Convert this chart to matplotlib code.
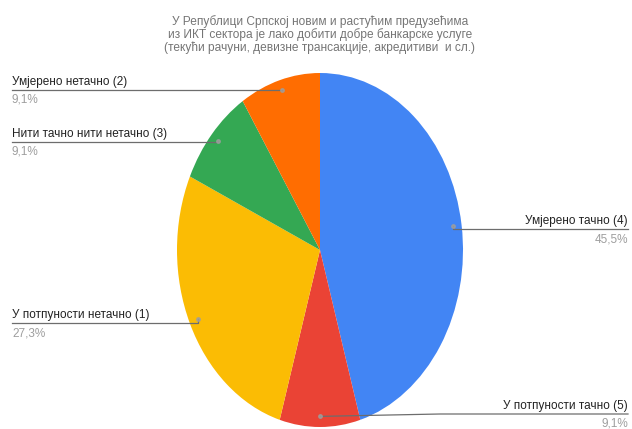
import numpy as np
import matplotlib
matplotlib.use('Agg')
import matplotlib.pyplot as plt

plt.rcParams['font.family'] = ['Liberation Sans', 'DejaVu Sans']

title = ('У Републици Српској новим и растућим предузећима\n'
         'из ИКТ сектора је лако добити добре банкарске услуге\n'
         '(текући рачуни, девизне трансакције, акредитиви  и сл.)')
labels = ['Умјерено тачно (4)', 'У потпуности тачно (5)', 'У потпуности нетачно (1)',
          'Нити тачно нити нетачно (3)', 'Умјерено нетачно (2)']
counts = [5, 1, 3, 1, 1]
colors = ['#4285F4', '#EA4335', '#FBBC04', '#34A853', '#FF6D01']

W, H = 632, 429
cx, cy, rx, ry = 320, 250, 143, 177

# label placement: side, y of the underline, x of the elbow (None = straight)
layout = [('right', 229, None), ('right', 414, 440), ('left', 323, None),
          ('left', 142, None), ('left', 90, None)]

fig = plt.figure(figsize=(W / 100, H / 100), dpi=100)
ax = fig.add_axes([(cx - rx) / W, (H - cy - ry) / H, 2 * rx / W, 2 * ry / H])
wedges, _ = ax.pie(counts, colors=colors, startangle=90, counterclock=False,
                   wedgeprops=dict(linewidth=0))
ax.set_aspect('auto')
ax.set_xlim(-1, 1)
ax.set_ylim(-1, 1)

ov = fig.add_axes([0, 0, 1, 1])
ov.set_xlim(0, W)
ov.set_ylim(H, 0)
ov.axis('off')
ov.patch.set_alpha(0)

ov.text(cx, 15, title, ha='center', va='top', fontsize=8.6, color='#757575',
        linespacing=1.02)

total = sum(counts)
for w, lab, n, (side, ly, elbow) in zip(wedges, labels, counts, layout):
    mid = np.deg2rad((w.theta1 + w.theta2) / 2)
    dx = cx + 0.94 * rx * np.cos(mid)
    dy = cy - 0.94 * ry * np.sin(mid)
    pct = f'{100 * n / total:.1f}%'.replace('.', ',')
    ex = dx if elbow is None else elbow
    if side == 'left':
        xs, ys = [12, ex, dx], [ly, ly, dy]
        tx, ha = 12, 'left'
    else:
        xs, ys = [dx, ex, 628], [dy, ly, ly]
        tx, ha = 628, 'right'
    ov.plot(xs, ys, color='#6d6d6d', lw=0.9)
    ov.plot(dx, dy, 'o', ms=2.5, color='#9e9e9e', alpha=0.8)
    ov.text(tx, ly - 2, lab, ha=ha, va='bottom', fontsize=8.5, color='#222222')
    ov.text(tx, ly + 4, pct, ha=ha, va='top', fontsize=8.5, color='#9e9e9e')

fig.savefig('out.png', dpi=100, facecolor='white')
